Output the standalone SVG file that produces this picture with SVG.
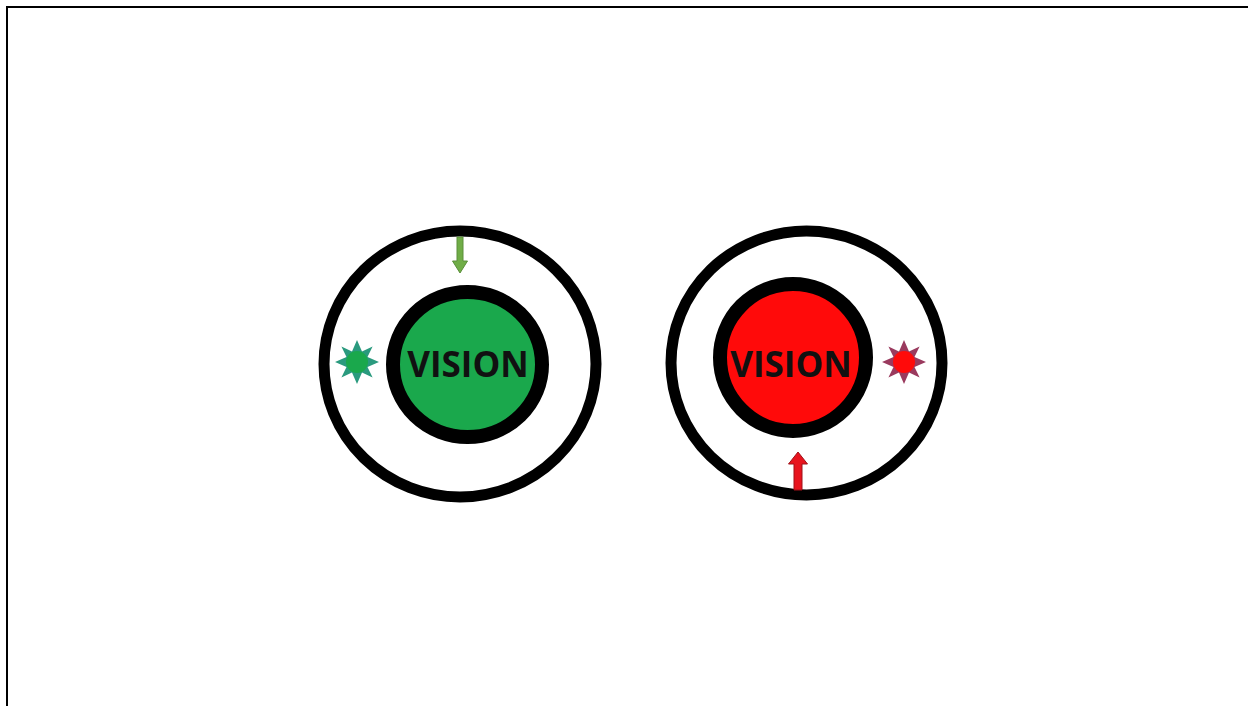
<svg xmlns="http://www.w3.org/2000/svg" width="1248" height="706" viewBox="0 0 1248 706">
<style>
.ring{fill:none;stroke:#000;stroke-width:11}
.core{stroke:#000;stroke-width:14}
.lbl{font-family:"Open Sans","Liberation Sans",sans-serif;font-weight:bold;font-size:35px;fill:#111;text-anchor:middle}
</style>
<defs>
<polygon id="spikes" points="0,-22 5,-10.5 15.6,-15.6 10.5,-5 22,0 10.5,5 15.6,15.6 5,10.5 0,22 -5,10.5 -15.6,15.6 -10.5,5 -22,0 -10.5,-5 -15.6,-15.6 -5,-10.5"/>
</defs>
<rect x="0" y="0" width="1248" height="706" fill="#fff"/>
<path d="M7,706 V7 H1248" fill="none" stroke="#000" stroke-width="2"/>
<g id="green-vision">
<ellipse class="ring" cx="460" cy="364" rx="136" ry="133"/>
<ellipse class="core" cx="467.5" cy="364.5" rx="74.5" ry="72.5" fill="#1aa84c"/>
<text class="lbl" x="468" y="377">VISION</text>
</g>
<g id="green-star">
<use href="#spikes" x="357" y="362" fill="#2a9a7e"/>
<circle cx="357" cy="362" r="11" fill="#1aa84c"/>
</g>
<g id="red-vision">
<ellipse class="ring" cx="806.5" cy="363" rx="135.5" ry="132"/>
<ellipse class="core" cx="793" cy="357.5" rx="73" ry="73.5" fill="#ff0a0a"/>
<text class="lbl" x="791" y="377">VISION</text>
</g>
<g id="red-star">
<use href="#spikes" x="904" y="362" fill="#9a3a5e"/>
<circle cx="904" cy="362" r="11" fill="#ff0a0a"/>
</g>
<g id="connectors">
<polygon points="457,237 463,237 463,261 467.5,261 460,273 452.5,261 457,261" fill="#70ad47" stroke="#5a8f3a" stroke-width="1"/>
<polygon points="794,490 802,490 802,464 807.5,464 798,452 788.5,464 794,464" fill="#e8141e" stroke="#a01018" stroke-width="1"/>
</g>
</svg>
